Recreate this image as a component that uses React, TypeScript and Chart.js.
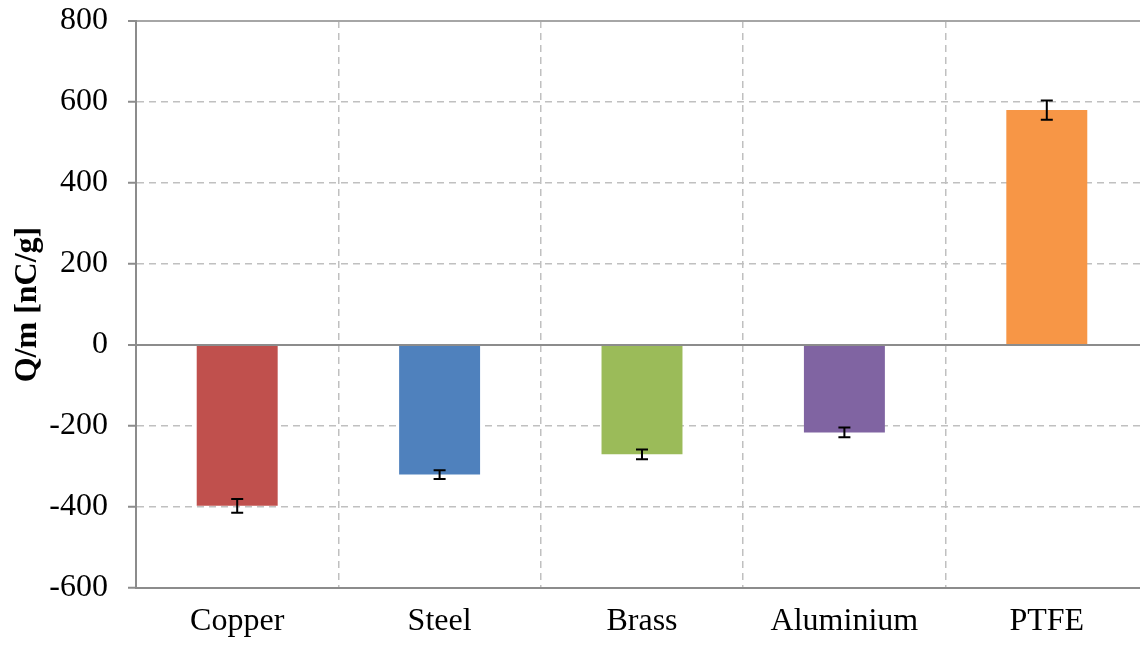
import React, { useEffect, useRef } from "react";
import { Chart, registerables } from "chart.js";

Chart.register(...registerables);

const categories = ["Copper", "Steel", "Brass", "Aluminium", "PTFE"];
const values = [-397, -320, -270, -216, 580];
const errors = [17, 11, 12, 12, 24];
const barColors = ["#C0504D", "#4F81BD", "#9BBB59", "#8064A2", "#F79646"];
const yMin = -600;
const yMax = 800;
const yStep = 200;
const yTitle = "Q/m [nC/g]";

const FONT = '"Liberation Serif", "Times New Roman", serif';

const errorBarPlugin = {
  id: "errorBars",
  afterDatasetsDraw(chart: any) {
    const meta = chart.getDatasetMeta(0);
    const y = chart.scales.y;
    const ctx = chart.ctx;
    ctx.save();
    ctx.strokeStyle = "#000000";
    ctx.lineWidth = 2;
    meta.data.forEach((bar: any, i: number) => {
      const x = bar.x;
      const top = y.getPixelForValue(values[i] + errors[i]);
      const bot = y.getPixelForValue(values[i] - errors[i]);
      const cap = 6;
      ctx.beginPath();
      ctx.moveTo(x, top);
      ctx.lineTo(x, bot);
      ctx.moveTo(x - cap, top);
      ctx.lineTo(x + cap, top);
      ctx.moveTo(x - cap, bot);
      ctx.lineTo(x + cap, bot);
      ctx.stroke();
    });
    ctx.restore();
  },
};

export default function App() {
  const canvasRef = useRef<HTMLCanvasElement | null>(null);

  useEffect(() => {
    if (!canvasRef.current) return;
    const chart = new Chart(canvasRef.current, {
      type: "bar",
      data: {
        labels: categories,
        datasets: [
          {
            data: values,
            backgroundColor: barColors,
            borderWidth: 0,
            categoryPercentage: 1,
            barPercentage: 0.4,
          },
        ],
      },
      options: {
        animation: false,
        responsive: true,
        maintainAspectRatio: false,
        layout: { padding: { left: 0, right: 0, top: 21, bottom: 0 } },
        plugins: { legend: { display: false }, tooltip: { enabled: false } },
        scales: {
          x: {
            type: "category",
            afterFit(scale: any) {
              scale.height = 57;
              scale.paddingLeft = 0;
              scale.paddingRight = 0;
            },
            grid: {
              display: true,
              offset: true,
              drawTicks: false,
              color: "#C0C0C0",
              lineWidth: 1.5,
            },
            border: { display: true, color: "#8C8C8C", width: 2, dash: [7, 5] },
            ticks: {
              color: "#000000",
              padding: 14,
              font: { family: FONT, size: 32 },
            },
          },
          y: {
            min: yMin,
            max: yMax,
            afterFit(scale: any) {
              scale.width = 136;
              scale.paddingTop = 0;
              scale.paddingBottom = 0;
            },
            ticks: {
              stepSize: yStep,
              color: "#000000",
              padding: 20,
              font: { family: FONT, size: 32 },
            },
            grid: {
              drawTicks: true,
              tickLength: 8,
              tickColor: "#8C8C8C",
              tickWidth: 2,
              color: (c: any) =>
                c.tick && c.tick.value === 0
                  ? "#8C8C8C"
                  : c.tick && c.tick.value === yMax
                  ? "#A6A6A6"
                  : "#C0C0C0",
              lineWidth: (c: any) => (c.tick && (c.tick.value === 0 || c.tick.value === yMax) ? 2 : 1.5),
            },
            border: {
              display: true,
              color: "#8C8C8C",
              width: 2,
              dash: (c: any) =>
                c.tick && (c.tick.value === 0 || c.tick.value === yMax) ? [] : [7, 5],
            },
            title: {
              display: true,
              text: yTitle,
              color: "#000000",
              padding: { top: 9, bottom: 0 },
              font: { family: FONT, size: 32, weight: "bold" },
            },
          },
        },
      },
      plugins: [errorBarPlugin],
    } as any);
    return () => chart.destroy();
  }, []);

  return (
    <div
      style={{
        position: "fixed",
        left: 0,
        top: 0,
        width: 1140,
        height: 645,
        overflow: "hidden",
        background: "#ffffff",
      }}
    >
      <div style={{ position: "relative", width: 1148, height: 645 }}>
        <canvas ref={canvasRef} />
      </div>
    </div>
  );
}
